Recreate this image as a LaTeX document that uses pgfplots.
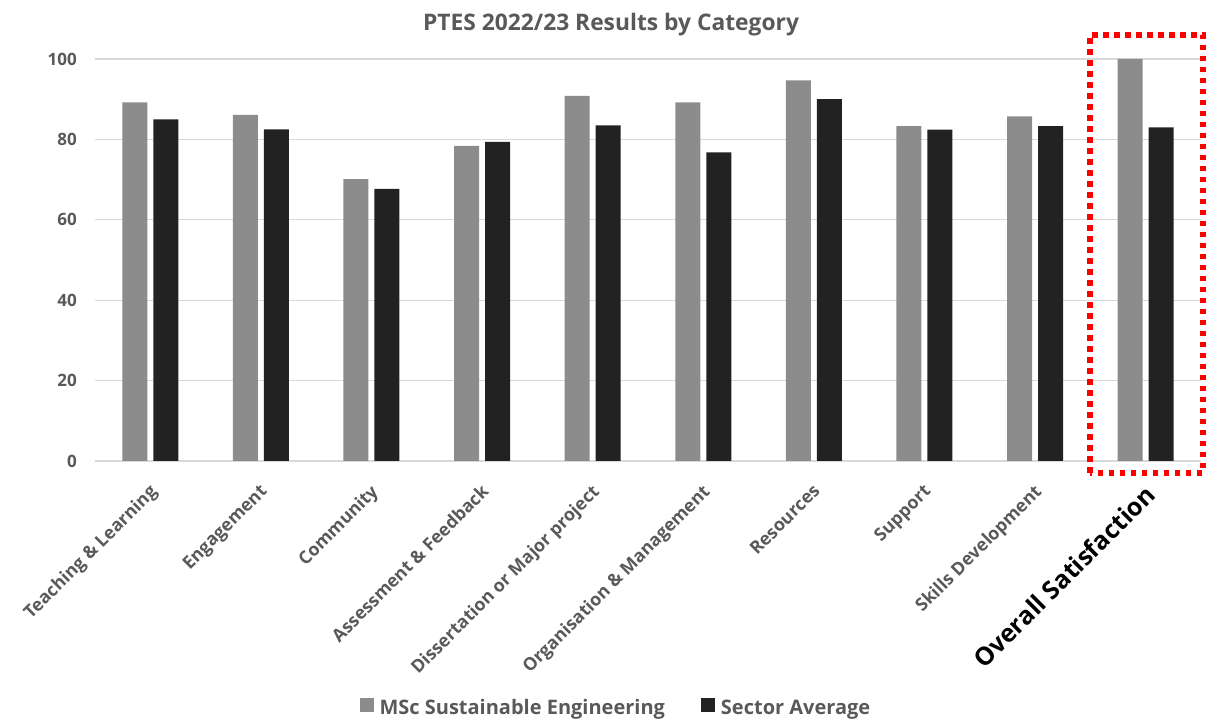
\documentclass[border=0pt]{standalone}
\usepackage{pgfplots}
\pgfplotsset{compat=1.18}
\usepackage{fontspec}
\setmainfont{Open Sans}
\definecolor{txtgray}{HTML}{595959}
\definecolor{bargray}{HTML}{8C8C8C}
\definecolor{barblack}{HTML}{222222}
\definecolor{gridgray}{HTML}{D9D9D9}
\begin{document}
\begin{tikzpicture}[x=1pt,y=1pt]
\useasboundingbox (0,0) rectangle (1208,720);
\begin{axis}[
  at={(95pt,259pt)}, anchor=south west,
  scale only axis, width=1106pt, height=402pt,
  ymin=0, ymax=100, xmin=-0.5, xmax=9.5,
  ytick={0,20,...,100},
  xtick={0,...,9},
  xticklabels={Teaching \& Learning, Engagement, Community, Assessment \& Feedback, Dissertation or Major project, Organisation \& Management, Resources, Support, Skills Development, {\fontsize{25}{25}\selectfont\color{black}Overall Satisfaction}},
  axis x line*=bottom, axis y line*=left,
  x axis line style={gridgray, line width=1.5pt, -},
  y axis line style={draw=none},
  major tick length=0pt,
  ymajorgrids, grid style={gridgray, line width=1.2pt},
  /pgf/number format/assume math mode=true,
  yticklabel style={font=\fontsize{17}{17}\selectfont\bfseries, text=txtgray, anchor=east, inner sep=0pt, xshift=-18pt},
  xticklabel style={font=\fontsize{17.8}{17.8}\selectfont\bfseries, text=txtgray, inner sep=0pt, xshift=-2pt, yshift=-22pt, rotate=45, anchor=north east},
  ybar=6pt, bar width=25pt,
  legend columns=2,
  legend style={draw=none, fill=none, at={(0.471,-0.614)}, anchor=center,
    font=\fontsize{20}{20}\selectfont\bfseries, text=txtgray,
    /tikz/every even column/.append style={column sep=34pt}},
]
\addplot[fill=bargray, draw=none, legend image code/.code={\fill[bargray] (0pt,-4pt) rectangle (14pt,10pt); \path (18pt,0pt);}] coordinates {
(0,89.2) (1,86.1) (2,70.1) (3,78.4) (4,90.8) (5,89.2) (6,94.7) (7,83.3) (8,85.7) (9,100)};
\addlegendentry{MSc Sustainable Engineering}
\addplot[fill=barblack, draw=none, legend image code/.code={\fill[barblack] (0pt,-4pt) rectangle (14pt,10pt); \path (18pt,0pt);}] coordinates {
(0,85.0) (1,82.5) (2,67.7) (3,79.4) (4,83.5) (5,76.8) (6,90.0) (7,82.4) (8,83.3) (9,83.0)};
\addlegendentry{Sector Average}
\end{axis}
\node[font=\fontsize{22.8}{22.8}\selectfont\bfseries, text=txtgray] at (611,695) {PTES 2022/23 Results by Category};
\draw[red, line width=5.5pt, dash pattern=on 5.5pt off 5.5pt] (1090,247) rectangle (1203,685);
\end{tikzpicture}
\end{document}
